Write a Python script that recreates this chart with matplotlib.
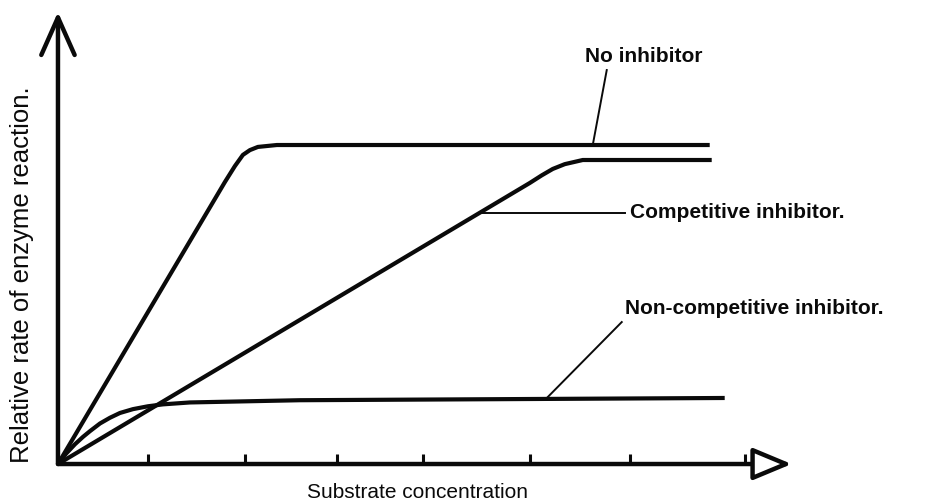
import matplotlib
matplotlib.use("Agg")
import matplotlib.pyplot as plt

# ── Curve data (substrate concentration, relative rate) ──
no_inh_x = [0.0, 1.67, 1.77, 1.85, 1.92, 2.00, 2.19, 6.52]
no_inh_y = [0.0, 0.884, 0.934, 0.969, 0.984, 0.994, 1.0, 1.0]

comp_x = [0.0, 4.72, 4.84, 4.95, 5.07, 5.25, 6.54]
comp_y = [0.0, 0.881, 0.905, 0.925, 0.940, 0.953, 0.953]

noncomp_x = [0.0, 0.08, 0.17, 0.25, 0.32, 0.42, 0.52, 0.62, 0.75,
             0.90, 1.05, 1.32, 2.42, 6.67]
noncomp_y = [0.0, 0.032, 0.062, 0.085, 0.103, 0.127, 0.145, 0.160, 0.172,
             0.181, 0.187, 0.193, 0.200, 0.207]

tick_x = [0.90, 1.87, 2.79, 3.65, 4.72, 5.72, 6.87]

X_MAX, Y_MAX = 7.34, 1.417

LABEL_FONT = ["Liberation Sans", "DejaVu Sans"]
INK = "#0a0a0a"

fig = plt.figure(figsize=(9.29, 5.03), dpi=100)
ax = fig.add_axes([0.0624, 0.0775, 0.807, 0.9196])
ax.set_xlim(0, 7.5)
ax.set_ylim(0, 1.45)
for sp in ax.spines.values():
    sp.set_visible(False)

# axes drawn as arrows
ax.annotate("", xy=(0, Y_MAX), xytext=(0, 0),
            arrowprops=dict(arrowstyle="->,head_length=27,head_width=12",
                            mutation_scale=1, lw=3.2, color=INK,
                            shrinkA=0, shrinkB=0))
ax.annotate("", xy=(X_MAX, 0), xytext=(0, 0),
            arrowprops=dict(arrowstyle="-|>,head_length=24,head_width=10",
                            mutation_scale=1, lw=3.2, color=INK, fc="white",
                            shrinkA=0, shrinkB=0))

ax.set_xticks(tick_x)
ax.set_yticks([])
ax.tick_params(axis="x", direction="in", length=7, width=2.2, color=INK,
               labelbottom=False)

# curves
for xs, ys in [(no_inh_x, no_inh_y), (comp_x, comp_y), (noncomp_x, noncomp_y)]:
    ax.plot(xs, ys, color=INK, lw=3.0, solid_capstyle="butt",
            solid_joinstyle="round", clip_on=False)

# labels with leader lines
ax.plot([5.49, 5.35], [1.235, 1.0], color=INK, lw=1.4)
ax.text(5.27, 1.279, "No inhibitor", ha="left", va="center",
        fontsize=15, fontweight="bold", family=LABEL_FONT, color=INK)

ax.plot([4.22, 5.67], [0.787, 0.787], color=INK, lw=1.4)
ax.text(5.72, 0.787, "Competitive inhibitor.", ha="left", va="center",
        fontsize=15, fontweight="bold", family=LABEL_FONT, color=INK)

ax.plot([4.90, 5.64], [0.21, 0.445], color=INK, lw=1.4)
ax.text(5.67, 0.489, "Non-competitive inhibitor.", ha="left", va="center",
        fontsize=15, fontweight="bold", family=LABEL_FONT, color=INK)

fig.text(22 / 929, 1 - 275 / 503, "Relative rate of enzyme reaction.",
         rotation=90, ha="center", va="center", fontsize=18.5,
         family=LABEL_FONT, color=INK)
fig.text(418 / 929, 1 - 492 / 503, "Substrate concentration",
         ha="center", va="center", fontsize=15,
         family=LABEL_FONT, color=INK)

fig.savefig("out.png", dpi=100, facecolor="white")
